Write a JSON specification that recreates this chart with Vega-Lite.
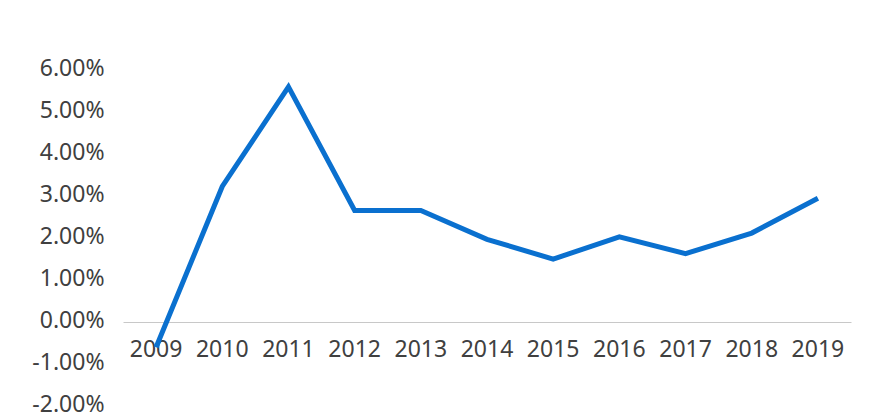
{
  "$schema": "https://vega.github.io/schema/vega-lite/v6.json",
  "width": 728,
  "height": 336,
  "autosize": "none",
  "padding": {"left": 123, "top": 68, "right": 27, "bottom": 8},
  "background": "#ffffff",
  "config": {
    "view": {"stroke": null},
    "axis": {
      "labelFont": "Noto Sans",
      "labelFontSize": 23,
      "labelColor": "#404040",
      "grid": false,
      "ticks": false,
      "title": null
    }
  },
  "data": {
    "values": [
      {"year": "2009", "rate": -0.0065},
      {"year": "2010", "rate": 0.0318},
      {"year": "2011", "rate": 0.0555},
      {"year": "2012", "rate": 0.0261},
      {"year": "2013", "rate": 0.0261},
      {"year": "2014", "rate": 0.0192},
      {"year": "2015", "rate": 0.0145},
      {"year": "2016", "rate": 0.0198},
      {"year": "2017", "rate": 0.0158},
      {"year": "2018", "rate": 0.0207},
      {"year": "2019", "rate": 0.0290}
    ]
  },
  "mark": {"type": "line", "color": "#0a70cf", "strokeWidth": 5, "strokeJoin": "miter", "clip": false},
  "encoding": {
    "x": {
      "field": "year",
      "type": "ordinal",
      "scale": {"type": "band", "paddingInner": 0, "paddingOuter": 0},
      "axis": {
        "labelAngle": 0,
        "offset": -82,
        "domain": true,
        "domainColor": "#c8c8c8",
        "domainWidth": 1,
        "labelPadding": 16
      }
    },
    "y": {
      "field": "rate",
      "type": "quantitative",
      "scale": {"domain": [-0.02, 0.06], "nice": false},
      "axis": {
        "format": ".2%",
        "labelExpr": "replace(datum.label, '\u2212', '-')",
        "values": [-0.02, -0.01, 0, 0.01, 0.02, 0.03, 0.04, 0.05, 0.06],
        "domain": false,
        "labelPadding": 19
      }
    }
  }
}
